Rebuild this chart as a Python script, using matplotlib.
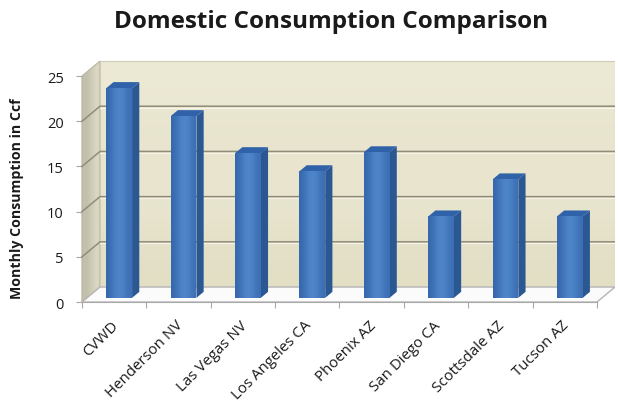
import matplotlib.pyplot as plt
import numpy as np
from matplotlib.patches import Polygon
from matplotlib.colors import LinearSegmentedColormap
from matplotlib.transforms import ScaledTranslation

cities = ['CVWD', 'Henderson NV', 'Las Vegas NV', 'Los Angeles CA',
          'Phoenix AZ', 'San Diego CA', 'Scottsdale AZ', 'Tucson AZ']
ccf = [23.2, 20.1, 16.0, 14.0, 16.1, 9.0, 13.1, 9.0]
yticks = [0, 5, 10, 15, 20, 25]

plt.rcParams['font.family'] = ['Open Sans', 'DejaVu Sans']

# oblique depth offset for the pseudo-3D box (category units, value units)
DX, DY = 0.28, 1.66
YMAX = 25
n = len(cities)


def proj(x, y, f):
    return (x + f * DX, y + f * DY)


fig = plt.figure(figsize=(6.18, 4.02), dpi=100)
ax = fig.add_axes([70 / 618, 1 - 310 / 402, 545 / 618, 260 / 402])

# side wall, back wall, floor
side = Polygon([proj(0, 0, 0), proj(0, 0, 1), proj(0, YMAX, 1), proj(0, YMAX, 0)],
               closed=True, facecolor='none', edgecolor='#b8b4a0', lw=0.8, zorder=1)
ax.add_patch(side)
side_grad = ax.imshow(np.array([[0.0, 1.0]]), cmap=LinearSegmentedColormap.from_list(
    'side', ['#c2bfab', '#d9d6c2']), extent=[0, DX, 0, YMAX + DY],
    aspect='auto', zorder=0.5, interpolation='bilinear')
side_grad.set_clip_path(side)

back = Polygon([proj(0, 0, 1), proj(n, 0, 1), proj(n, YMAX, 1), proj(0, YMAX, 1)],
               closed=True, facecolor='none', edgecolor='#cfccb8', lw=0.8, zorder=1)
ax.add_patch(back)
back_grad = ax.imshow(np.array([[1.0], [0.6], [0.8], [0.3]]), cmap=LinearSegmentedColormap.from_list(
    'wall', ['#e3dfc5', '#ece9d5']), extent=[DX, n + DX, DY, YMAX + DY],
    aspect='auto', zorder=0.5, interpolation='bicubic')
back_grad.set_clip_path(back)

floor = Polygon([proj(0, 0, 0), proj(n, 0, 0), proj(n, 0, 1), proj(0, 0, 1)],
                closed=True, facecolor='#fbfbfb', edgecolor='#b5b5b5', lw=1.0, zorder=2)
ax.add_patch(floor)

# gridlines on the walls
for v in yticks[1:-1]:
    x0, y0 = proj(0, v, 0)
    x1, y1 = proj(0, v, 1)
    x2, y2 = proj(n, v, 1)
    ax.plot([x0, x1, x2], [y0, y1, y2], color='#8f8c79', lw=1.1, zorder=2)
    ax.plot([x1, x2], [y1 - 0.17, y2 - 0.17], color='#f6f4e8', lw=0.8, zorder=2)

# bars
w0, w1 = 0.30, 0.70
f0, f1 = 0.28, 0.68
bar_cmap = LinearSegmentedColormap.from_list('bar', ['#3768ad', '#5189cd'])
for i, v in enumerate(ccf):
    xl, xr = i + w0, i + w1
    front = [proj(xl, 0, f0), proj(xr, 0, f0), proj(xr, v, f0), proj(xl, v, f0)]
    right = [proj(xr, 0, f0), proj(xr, 0, f1), proj(xr, v, f1), proj(xr, v, f0)]
    top = [proj(xl, v, f0), proj(xr, v, f0), proj(xr, v, f1), proj(xl, v, f1)]
    ax.add_patch(Polygon(right, closed=True, facecolor='#2b5792', edgecolor='none', zorder=4))
    ax.add_patch(Polygon(top, closed=True, facecolor='#2f62a8', edgecolor='none', zorder=4))
    fp = Polygon(front, closed=True, facecolor='none', edgecolor='none', zorder=4)
    ax.add_patch(fp)
    im = ax.imshow(np.array([[0.0, 0.6, 1.0, 0.7, 0.2]]), cmap=bar_cmap,
                   extent=[front[0][0], front[1][0], front[0][1], front[2][1]],
                   aspect='auto', zorder=4, interpolation='bicubic')
    im.set_clip_path(fp)

ax.set_aspect('auto')
ax.set_xlim(-0.186, 8.28)
ax.set_ylim(-0.77, 27.99)

# axes
for s in ['top', 'right']:
    ax.spines[s].set_visible(False)
ax.spines['left'].set_position(('data', 0))
ax.spines['left'].set_bounds(0, YMAX)
ax.spines['bottom'].set_position(('data', 0))
ax.spines['bottom'].set_bounds(0, n)
ax.spines['left'].set_color('#a8a8a8')
ax.spines['bottom'].set_color('#a8a8a8')
ax.spines['left'].set_zorder(0)
ax.spines['bottom'].set_zorder(3)

ax.set_yticks(yticks)
ax.set_yticklabels([str(t) for t in yticks], fontsize=10.5, color='#1a1a1a')
ax.tick_params(axis='y', length=4, color='#a8a8a8', pad=9)
ax.set_xticks(np.arange(0, n + 1))
ax.set_xticklabels([])
ax.tick_params(axis='x', which='major', length=4, color='#a8a8a8')
ax.set_xticks(np.arange(n) + 0.5, minor=True)
ax.set_xticklabels(cities, minor=True, rotation=45, ha='right', rotation_mode='anchor',
                   fontsize=10.8, color='#1a1a1a')
ax.tick_params(axis='x', which='minor', length=0, pad=11)
shift = ScaledTranslation(-3 / 100, 0, fig.dpi_scale_trans)
for lab in ax.get_xticklabels(minor=True):
    lab.set_transform(lab.get_transform() + shift)

ax.set_ylabel('Monthly Consumption in Ccf', fontsize=10.2, fontweight='bold', color='#1a1a1a')
ax.yaxis.set_label_coords(-0.085, 0.43)
fig.text(0.535, 1 - 28 / 402, 'Domestic Consumption Comparison', ha='center', va='baseline',
         fontsize=17.5, fontweight='bold', color='#1a1a1a')

fig.savefig('out.png', dpi=100)
